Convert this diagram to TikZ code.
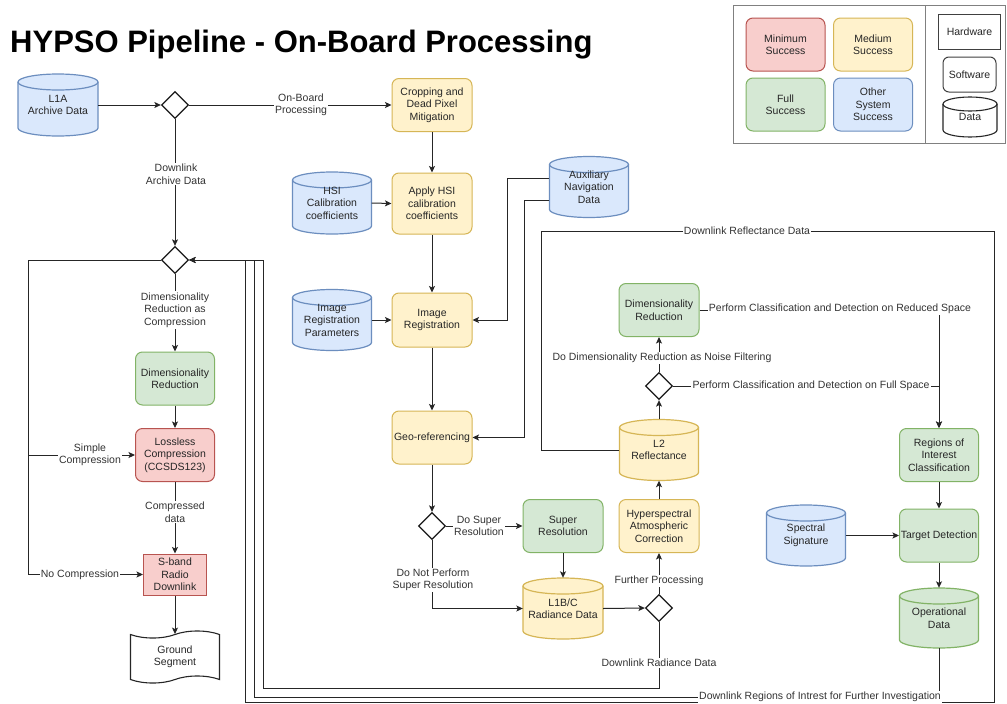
\documentclass[tikz,border=0pt]{standalone}
\usepackage{fontspec}
\setmainfont{Liberation Sans}
\usetikzlibrary{arrows.meta,shapes.geometric,shapes.symbols,calc}
\definecolor{rfill}{HTML}{F8CECC}\definecolor{rdraw}{HTML}{B85450}
\definecolor{yfill}{HTML}{FFF2CC}\definecolor{ydraw}{HTML}{D6B656}
\definecolor{gfill}{HTML}{D5E8D4}\definecolor{gdraw}{HTML}{82B366}
\definecolor{bfill}{HTML}{DAE8FC}\definecolor{bdraw}{HTML}{6C8EBF}
\newcommand\dbcyl[8]{%
  \pgfmathsetmacro\cylrx{#4/2}%
  \path[#6] ({#2-#4/2},{#3-#5/2+#7}) -- ({#2-#4/2},{#3+#5/2-#7})
     arc[start angle=180,end angle=360,x radius=\cylrx pt,y radius=#7pt]
     -- ({#2+#4/2},{#3-#5/2+#7})
     arc[start angle=0,end angle=180,x radius=\cylrx pt,y radius=#7pt] -- cycle;
  \path[#6, fill=none] ({#2-#4/2},{#3-#5/2+#7}) arc[start angle=180,end angle=360,x radius=\cylrx pt,y radius=#7pt];
  \node[txt, minimum width=#4pt, minimum height=#5pt, inner sep=0pt] (#1) at (#2,#3) {#8};
}
\begin{document}
\begin{tikzpicture}[x=1pt,y=-1pt,
  txt/.style={font=\fontsize{10.5}{12.5}\selectfont, align=center, text=black!85, inner sep=1pt},
  box/.style={txt, rounded corners=7pt, line width=1pt, minimum width=80pt, minimum height=53pt},
  redbox/.style={fill=rfill, draw=rdraw},
  yelbox/.style={fill=yfill, draw=ydraw},
  grnbox/.style={fill=gfill, draw=gdraw},
  blubox/.style={fill=bfill, draw=bdraw},
  redcyl/.style={fill=rfill, draw=rdraw, line width=1pt},
  yelcyl/.style={fill=yfill, draw=ydraw, line width=1.2pt},
  grncyl/.style={fill=gfill, draw=gdraw, line width=1.2pt},
  blucyl/.style={fill=bfill, draw=bdraw, line width=1.2pt},
  whtcyl/.style={fill=white, draw=black!85, line width=1.1pt},
  lbl/.style={txt, fill=white, inner sep=1.2pt, text=black!80},
  arr/.style={draw=black!85, line width=1pt, -{Stealth[length=6.5pt,width=6pt,inset=1.5pt]}},
  plain/.style={draw=black!85, line width=1pt},
  dia/.style={diamond, draw=black!90, line width=1.3pt, fill=white, minimum width=27pt, minimum height=27pt, inner sep=0pt}
]
\useasboundingbox (0,0) rectangle (1007,704);
\fill[white] (0,0) rectangle (1007,704);

% title
\node[anchor=base west, font=\fontsize{31}{36}\selectfont\bfseries, text=black, inner sep=0pt] (title) at (10,52) {HYPSO Pipeline - On-Board Processing};

% legend
\draw[black!50, line width=1pt] (733,5) rectangle (1005,143);
\draw[black!50, line width=1pt] (925,5) -- (925,143);
\node[box, redbox, minimum width=79pt] (lmin) at (785.5,44.5) {Minimum\\Success};
\node[box, yelbox, minimum width=79pt] (lmed) at (873,44.5) {Medium\\Success};
\node[box, grnbox, minimum width=79pt] (lfull) at (785.5,104.5) {Full\\Success};
\node[box, blubox, minimum width=79pt] (loth) at (873,104.5) {Other\\System\\Success};
\node[txt, draw=black!75, line width=1pt, minimum width=62pt, minimum height=35pt] (lhw) at (969.5,31.5) {Hardware};
\node[txt, draw=black!75, line width=1pt, rounded corners=6pt, minimum width=53pt, minimum height=35pt] (lsw) at (969.5,74.5) {Software};
\dbcyl{ldata}{970}{117}{54}{40}{whtcyl}{7}{\raisebox{-6pt}{Data}}

% left column
\dbcyl{l1a}{58}{105}{80}{62}{blucyl}{8}{L1A\\Archive Data}
\node[dia] (d1) at (175,105) {};
\node[dia] (d4) at (175,260) {};
\node[box, grnbox, minimum width=79pt] (dimr1) at (175,378.5) {Dimensionality\\Reduction};
\node[box, redbox, minimum width=79pt] (lossless) at (175,455) {Lossless\\Compression\\(CCSDS123)};
\node[txt, redbox, line width=1pt, minimum width=63pt, minimum height=41pt] (sband) at (175,574.5) {S-band\\Radio\\Downlink};
\node[txt, tape, draw=black!85, fill=white, line width=1.1pt, minimum width=89pt, minimum height=52pt, tape bend height=7pt] (ground) at (175,657) {Ground\\Segment};

% middle column
\node[box, yelbox] (crop) at (432,105) {Cropping and\\Dead Pixel\\Mitigation};
\node[box, yelbox, minimum height=61pt] (apply) at (432,203.5) {Apply HSI\\calibration\\coefficients};
\dbcyl{hsical}{332}{203}{79}{62}{blucyl}{8}{HSI\\Calibration\\coefficients}
\node[box, yelbox, minimum height=54pt] (imreg) at (432,320) {Image\\Registration};
\dbcyl{imregp}{332}{320}{79}{61}{blucyl}{8}{Image\\Registration\\Parameters}
\dbcyl{aux}{589}{187}{79}{61}{blucyl}{8}{Auxiliary\\Navigation\\Data}
\node[box, yelbox] (geo) at (432,437.5) {Geo-referencing};
\node[dia] (d2) at (432,526) {};
\node[box, grnbox] (superres) at (563,526) {Super\\Resolution};
\dbcyl{l1bc}{563}{608.5}{80}{61}{yelcyl}{8}{L1B/C\\Radiance Data}
\node[dia] (d3) at (659,608) {};
\node[box, yelbox] (hac) at (659,526) {Hyperspectral\\Atmospheric\\Correction};
\dbcyl{l2}{659}{450}{79}{61}{yelcyl}{8}{L2\\Reflectance}
\node[dia] (d5) at (659,386) {};
\node[box, grnbox] (dimr2) at (659,310) {Dimensionality\\Reduction};

% right column
\node[box, grnbox, minimum width=79pt] (roi) at (939,455) {Regions of\\Interest\\Classification};
\node[box, grnbox, minimum width=79pt] (td) at (939,535.5) {Target Detection};
\dbcyl{spec}{806}{535.5}{79}{61}{blucyl}{8}{Spectral\\Signature}
\dbcyl{opd}{939}{618}{79}{60}{grncyl}{8}{Operational\\Data}

% connectors
\draw[arr] (l1a.east) -- (d1.west);
\draw[arr] (d1.east) -- (crop.west);
\draw[arr] (d1.south) -- (d4.north);
\draw[arr] (crop.south) -- (apply.north);
\draw[arr] (hsical.east) -- (apply.west);
\draw[arr] (apply.south) -- (imreg.north);
\draw[arr] (imregp.east) -- (imreg.west);
\draw[arr] ([yshift=9pt]aux.west) -| (507,320) -- (imreg.east);
\draw[arr] ([yshift=-13pt]aux.west) -| (524,437.5) -- (geo.east);
\draw[arr] (imreg.south) -- (geo.north);
\draw[arr] (geo.south) -- (d2.north);
\draw[arr] (d2.east) -- (superres.west);
\draw[arr] (d2.south) |- (l1bc.west);
\draw[arr] (superres.south) -- (l1bc.north);
\draw[arr] (l1bc.east) -- (d3.west);
\draw[arr] (d3.north) -- (hac.south);
\draw[arr] (hac.north) -- (l2.south);
\draw[arr] (l2.north) -- (d5.south);
\draw[arr] (d5.north) -- (dimr2.south);
\draw[arr] (dimr2.east) -| (roi.north);
\draw[arr] (d5.east) -| (roi.north);
\draw[arr] (roi.south) -- (td.north);
\draw[arr] (spec.east) -- (td.west);
\draw[arr] (td.south) -- (opd.north);
\draw[arr] (opd.south) |- (254,697) -- (254,260) -- (d4.east);
\draw[arr] (d3.south) |- (263,688) -- (263,260) -- (d4.east);
\draw[arr] (l2.west) -| (541,231) -| (994,702) -| (245,260) -- (d4.east);
\draw[arr] (d4.south) -- (dimr1.north);
\draw[arr] (dimr1.south) -- (lossless.north);
\draw[arr] (d4.west) -| (28,455) -- (lossless.west);
\draw[arr] (d4.west) -| (28,574.5) -- (sband.west);
\draw[arr] (lossless.south) -- (sband.north);
\draw[arr] (sband.south) -- (ground.north);

% edge labels
\node[lbl] (t1) at (301,105) {On-Board\\Processing};
\node[lbl] (t2) at (176,174) {Downlink\\Archive Data};
\node[lbl] (t3) at (175,310) {Dimensionality\\Reduction as\\Compression};
\node[lbl] (t4) at (90,455) {Simple\\Compression};
\node[lbl] (t5) at (175,512) {Compressed\\data};
\node[lbl] (t6) at (80,574.5) {No Compression};
\node[lbl] (t7) at (479,526) {Do Super\\Resolution};
\node[lbl] (t8) at (433,580) {Do Not Perform\\Super Resolution};
\node[lbl] (t9) at (659,581) {Further Processing};
\node[lbl] (t10) at (659,663) {Downlink Radiance Data};
\node[lbl] (t11) at (662,358) {Do Dimensionality Reduction as Noise Filtering};
\node[lbl] (t12) at (811,386) {Perform Classification and Detection on Full Space};
\node[lbl] (t13) at (840,309) {Perform Classification and Detection on Reduced Space};
\node[lbl] (t14) at (747,231) {Downlink Reflectance Data};
\node[lbl] (t15) at (820,697) {Downlink Regions of Intrest for Further Investigation};
\end{tikzpicture}
\end{document}
